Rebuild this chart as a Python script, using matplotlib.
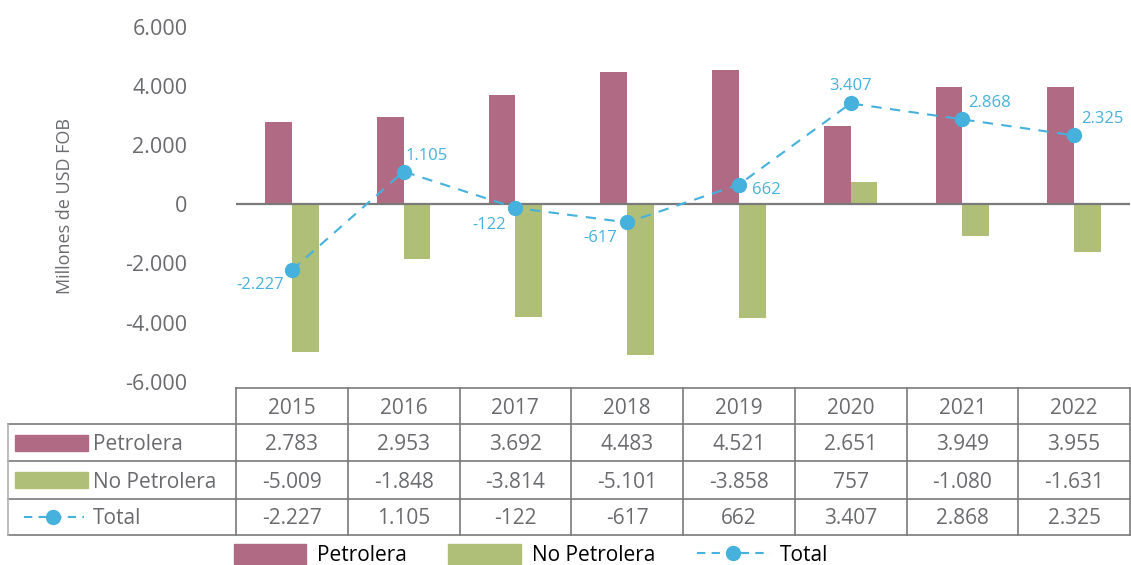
"""
Balanza comercial: Petrolera / No Petrolera / Total, con tabla de datos
"""

import matplotlib
matplotlib.use('Agg')
import matplotlib.pyplot as plt
from matplotlib.patches import Rectangle
from matplotlib.lines import Line2D

years = ['2015', '2016', '2017', '2018', '2019', '2020', '2021', '2022']
petrolera = [2783, 2953, 3692, 4483, 4521, 2651, 3949, 3955]
no_petrolera = [-5009, -1848, -3814, -5101, -3858, 757, -1080, -1631]
total = [-2227, 1105, -122, -617, 662, 3407, 2868, 2325]
yticks = [-6000, -4000, -2000, 0, 2000, 4000, 6000]

C_PET = '#b06a84'
C_NOP = '#afbf77'
C_TOT = '#45b1dc'
GRAY = '#6a6b6e'
LINE = '#7a7a7a'
FONT = 'Open Sans'

plt.rcParams['font.family'] = [FONT, 'DejaVu Sans']
plt.rcParams['font.weight'] = 'medium'

W, H = 1131, 565
FS = 15


def fmt(v):
    # miles con punto
    return '{:,}'.format(v).replace(',', '.')


fig = plt.figure(figsize=(W / 100, H / 100), dpi=100)

# main axes in pixel layout: x 236..1130, y 26.7..381.7
x0, x1 = 236, 1130
ytop, ybot = 26.7, 381.7
ax = fig.add_axes([x0 / W, 1 - ybot / H, (x1 - x0) / W, (ybot - ytop) / H])
n = len(years)
xs = [i + 0.5 for i in range(n)]
bw = 0.24
ax.bar([x - bw / 2 for x in xs], petrolera, width=bw, color=C_PET, zorder=2)
ax.bar([x + bw / 2 for x in xs], no_petrolera, width=bw, color=C_NOP, zorder=2)
ax.axhline(0, color=LINE, lw=1.6, zorder=3)
ax.plot(xs, total, color=C_TOT, lw=1.5, ls=(0, (5, 4)), marker='o', ms=10,
        zorder=4)

# label offsets (pixels) and alignment for each Total point
offs = [(-8, -15, 'right'), (2, 16, 'left'), (-9, -17, 'right'),
        (-10, -16, 'right'), (13, -5, 'left'), (0, 17, 'center'),
        (6, 16, 'left'), (7, 16, 'left')]
for x, v, (dx, dy, ha) in zip(xs, total, offs):
    ax.annotate(fmt(v), (x, v), xytext=(dx, dy), textcoords='offset pixels',
                ha=ha, va='center', color=C_TOT, fontsize=12, zorder=5)

ax.set_xlim(0, n)
ax.set_ylim(-6000, 6000)
ax.set_yticks(yticks)
ax.set_yticklabels([fmt(t) for t in yticks], fontsize=FS + 0.5, color=GRAY)
ax.tick_params(axis='y', length=0, pad=35)
ax.set_xticks([])
for s in ax.spines.values():
    s.set_visible(False)
ax.set_ylabel('Millones de USD FOB', fontsize=13, color=GRAY)
ax.yaxis.set_label_coords(-0.181, 0.496)

# overlay axes in pixel coordinates for the data table
tx = fig.add_axes([0, 0, 1, 1])
tx.set_xlim(0, W)
tx.set_ylim(H, 0)
tx.axis('off')

cw = (x1 - x0) / n
rows = [388, 424, 461, 499, 535]
lab_x0 = 8
dy_txt = 2
# horizontal lines
tx.plot([x0, x1], [rows[0], rows[0]], color=LINE, lw=1.2)
for r in rows[1:]:
    tx.plot([lab_x0, x1], [r, r], color=LINE, lw=1.2)
# vertical lines
tx.plot([lab_x0, lab_x0], [rows[1], rows[-1]], color='#b0b0b0', lw=1.2)
for i in range(n + 1):
    xx = x0 + i * cw
    tx.plot([xx, xx], [rows[0], rows[-1]], color=LINE, lw=1.2)

series = [petrolera, no_petrolera, total]
for i, y in enumerate(years):
    cx = x0 + (i + 0.5) * cw
    tx.text(cx, (rows[0] + rows[1]) / 2 + dy_txt, y, ha='center',
            va='center', fontsize=FS, color=GRAY)
    for j, ser in enumerate(series):
        tx.text(cx, (rows[j + 1] + rows[j + 2]) / 2 + dy_txt, fmt(ser[i]),
                ha='center', va='center', fontsize=FS, color=GRAY)

# row labels with legend glyphs
names = ['Petrolera', 'No Petrolera', 'Total']
for j, name in enumerate(names):
    cy = (rows[j + 1] + rows[j + 2]) / 2
    if j < 2:
        tx.add_patch(Rectangle((15, cy - 8), 73, 16,
                               color=C_PET if j == 0 else C_NOP))
    else:
        tx.plot([24, 84], [cy, cy], color=C_TOT, lw=1.5, ls=(0, (4, 3)))
        tx.plot([53], [cy], 'o', color=C_TOT, ms=10)
    tx.text(93, cy + dy_txt, name, ha='left', va='center', fontsize=FS,
            color=GRAY)

# bottom legend
handles = [Rectangle((0, 0), 1, 1, color=C_PET),
           Rectangle((0, 0), 1, 1, color=C_NOP),
           Line2D([], [], color=C_TOT, lw=1.5, ls=(0, (4, 3)), marker='o',
                  ms=10)]
fig.legend(handles, names, loc='center', bbox_to_anchor=(531 / W, 1 - 555 / H),
           ncol=3, frameon=False, fontsize=FS, handlelength=3.5,
           handleheight=1.1, columnspacing=2.0, handletextpad=0.5,
           labelcolor='black')

plt.savefig('out.png', dpi=100)
plt.close(fig)
